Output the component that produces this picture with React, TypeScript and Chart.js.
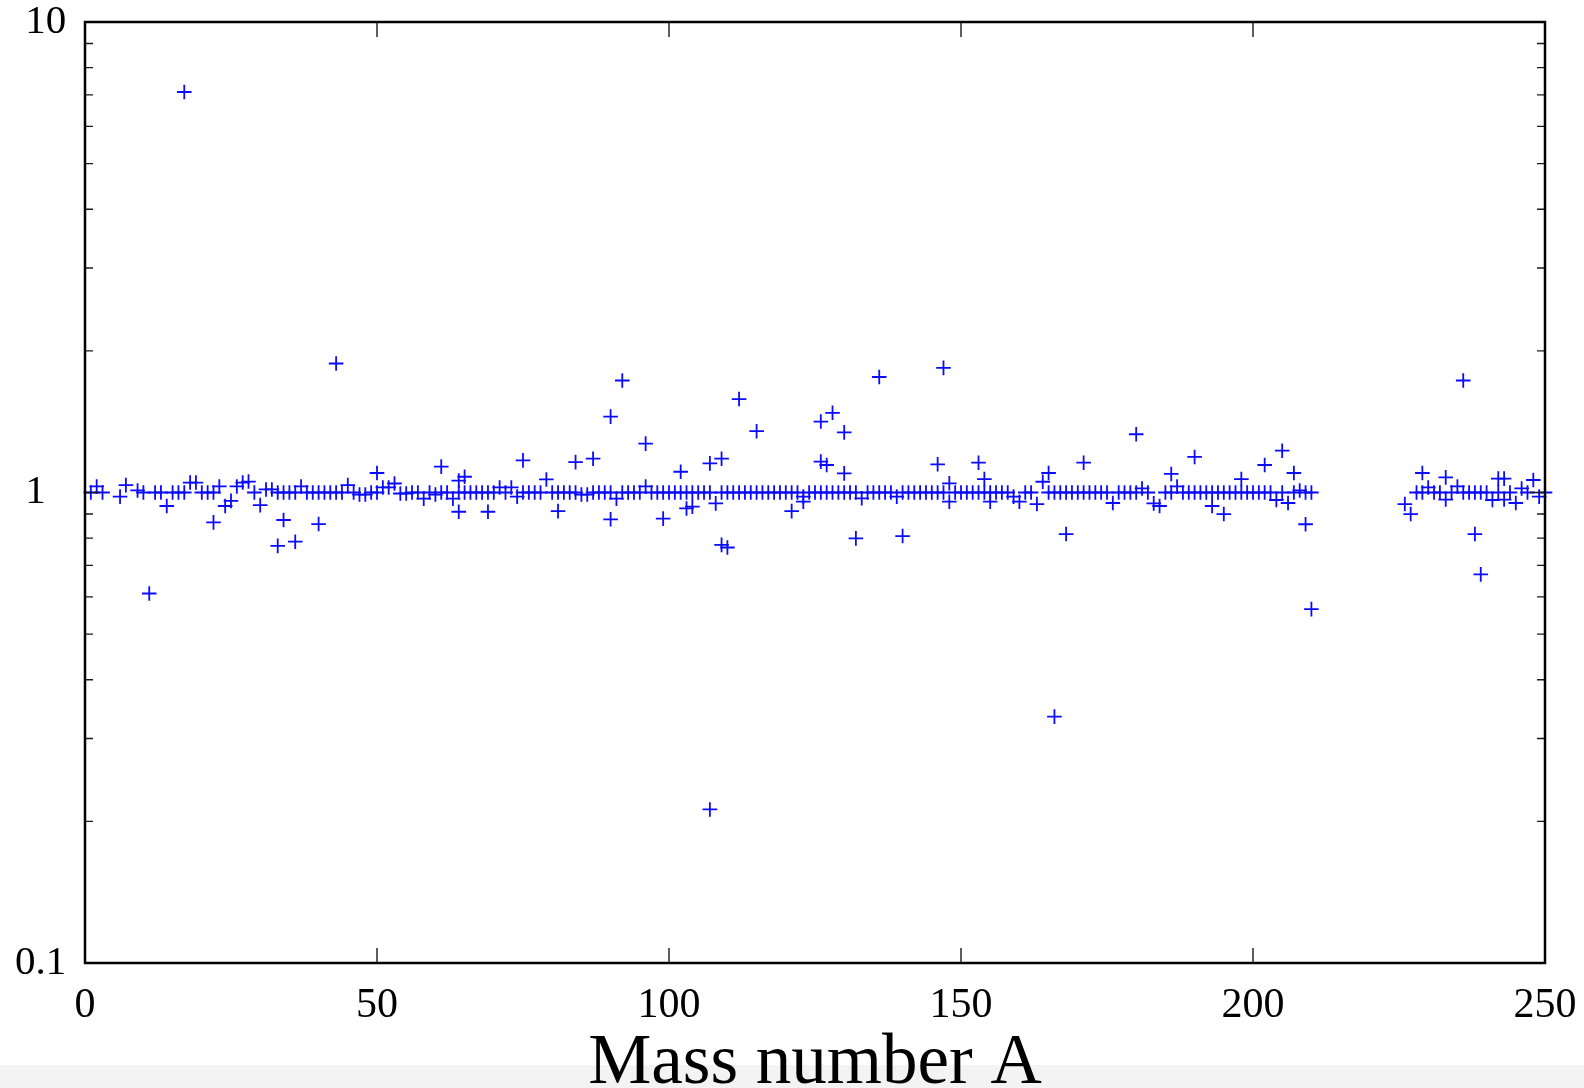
import React, { useEffect, useRef } from "react";
import { Chart, registerables } from "chart.js";

Chart.register(...registerables);

// ---- axis ticks ----
const xTickValues = [0, 50, 100, 150, 200, 250];
const yTickLabels = [0.1, 1, 10];
const yTickText = ["0.1", " 1", " 10"];
const yMinorTicks = [0.2, 0.3, 0.4, 0.5, 0.6, 0.7, 0.8, 0.9, 2, 3, 4, 5, 6, 7, 8, 9];
const xAxisTitle = "Mass number A";

// ---- data: near-unity points, one per mass number ----
const massA_1to50 = [1, 2, 3, 6, 7, 9, 10, 12, 13, 14, 15, 16, 17, 18, 19, 20, 21, 22, 23, 24, 25, 26, 27, 28, 29, 30, 31, 32, 33, 34, 35, 36, 37, 38, 39, 40, 41, 42, 43, 44, 45, 46, 47, 48, 49, 50];
const ratio_1to50 = [1.0, 1.03, 1.0, 0.98, 1.037, 1.01, 1.0, 1.0, 1.0, 0.936, 1.0, 1.0, 1.0, 1.05, 1.05, 1.0, 1.0, 1.0, 1.03, 0.936, 0.96, 1.03, 1.05, 1.055, 1.0, 0.94, 1.015, 1.015, 1.0, 1.0, 1.0, 1.0, 1.03, 1.0, 1.0, 1.0, 1.0, 1.0, 1.0, 1.0, 1.037, 1.0, 0.99, 0.99, 1.0, 1.0];

const massA_51to100 = [51, 52, 53, 54, 55, 56, 57, 58, 59, 60, 61, 62, 63, 64, 65, 66, 67, 68, 69, 70, 71, 72, 73, 74, 75, 76, 77, 78, 79, 80, 81, 82, 83, 84, 85, 86, 87, 88, 89, 90, 91, 92, 93, 94, 95, 96, 97, 98, 99, 100];
const ratio_51to100 = [1.025, 1.025, 1.045, 0.995, 0.995, 1.0, 1.0, 0.97, 1.0, 0.99, 1.0, 1.0, 0.97, 1.0, 1.0, 1.0, 1.0, 1.0, 1.0, 1.0, 1.025, 1.0, 1.025, 0.98, 1.0, 1.0, 1.0, 1.0, 1.066, 1.0, 1.0, 1.0, 1.0, 1.0, 0.99, 0.99, 1.0, 1.0, 1.0, 1.0, 0.97, 1.0, 1.0, 1.0, 1.0, 1.03, 1.0, 1.0, 1.0, 1.0];

const massA_101to150 = [101, 102, 103, 104, 105, 106, 107, 108, 109, 110, 111, 112, 113, 114, 115, 116, 117, 118, 119, 120, 121, 122, 123, 124, 125, 126, 127, 128, 129, 130, 131, 132, 133, 134, 135, 136, 137, 138, 139, 140, 141, 142, 143, 144, 145, 146, 147, 148, 149, 150];
const ratio_101to150 = [1.0, 1.0, 1.0, 1.0, 1.0, 1.0, 1.0, 0.948, 1.0, 1.0, 1.0, 1.0, 1.0, 1.0, 1.0, 1.0, 1.0, 1.0, 1.0, 1.0, 1.0, 1.0, 0.98, 1.0, 1.0, 1.0, 1.0, 1.0, 1.0, 1.0, 1.0, 1.0, 0.972, 1.0, 1.0, 1.0, 1.0, 1.0, 0.98, 1.0, 1.0, 1.0, 1.0, 1.0, 1.0, 1.0, 1.0, 1.046, 1.0, 1.0];

const massA_151to210 = [151, 152, 153, 154, 155, 156, 157, 158, 159, 160, 161, 162, 163, 164, 165, 166, 167, 168, 169, 170, 171, 172, 173, 174, 175, 176, 177, 178, 179, 180, 181, 182, 183, 184, 185, 186, 187, 188, 189, 190, 191, 192, 193, 194, 195, 196, 197, 198, 199, 200, 201, 202, 203, 204, 205, 206, 207, 208, 209, 210];
const ratio_151to210 = [1.0, 1.0, 1.0, 1.0, 1.0, 1.0, 1.0, 1.0, 0.98, 0.956, 1.0, 1.0, 0.945, 1.054, 1.0, 1.0, 1.0, 1.0, 1.0, 1.0, 1.0, 1.0, 1.0, 1.0, 1.0, 0.95, 1.0, 1.0, 1.0, 1.0, 1.02, 1.0, 0.948, 0.936, 1.0, 1.0, 1.03, 1.0, 1.0, 1.0, 1.0, 1.0, 1.0, 1.0, 1.0, 1.0, 1.0, 1.0, 1.0, 1.0, 1.0, 1.0, 1.0, 0.964, 1.0, 0.95, 1.0, 1.01, 1.0, 1.0];

const massA_226to250 = [226, 227, 228, 229, 230, 231, 232, 233, 234, 235, 236, 237, 238, 239, 240, 241, 242, 243, 244, 245, 246, 247, 248, 249, 250];
const ratio_226to250 = [0.945, 0.9, 1.0, 1.0, 1.025, 1.0, 1.0, 0.966, 1.0, 1.03, 1.0, 1.0, 1.0, 1.0, 1.0, 0.964, 1.0, 0.966, 1.0, 0.95, 1.02, 1.0, 1.063, 0.98, 1.0];

// ---- data: additional (deviating) points ----
const outlierMassA = [11, 17, 22, 33, 34, 36, 40, 43, 50, 61, 64, 64, 65, 69, 75, 81, 84, 87, 90, 90, 92, 96, 99, 102, 103, 104, 107, 107, 109, 109, 110, 112, 115, 121, 123, 126, 126, 127, 128, 130, 130, 132, 136, 140, 146, 147, 148, 153, 154, 155, 165, 166, 168, 171, 180, 186, 190, 193, 195, 198, 202, 205, 207, 209, 210, 229, 233, 236, 238, 239, 242, 243];
const outlierRatio = [0.61, 7.1, 0.864, 0.77, 0.874, 0.786, 0.857, 1.88, 1.1, 1.135, 0.91, 1.06, 1.08, 0.91, 1.17, 0.913, 1.16, 1.18, 1.45, 0.877, 1.73, 1.27, 0.88, 1.107, 0.925, 0.933, 0.212, 1.153, 1.18, 0.774, 0.764, 1.58, 1.35, 0.913, 0.956, 1.415, 1.163, 1.144, 1.477, 1.342, 1.098, 0.799, 1.76, 0.808, 1.148, 1.84, 0.956, 1.157, 1.068, 0.956, 1.1, 0.334, 0.816, 1.157, 1.33, 1.095, 1.19, 0.936, 0.9, 1.068, 1.144, 1.227, 1.1, 0.856, 0.565, 1.1, 1.077, 1.73, 0.816, 0.67, 1.07, 1.07];

const zip = (xs: number[], ys: number[]) => xs.map((x, i) => ({ x, y: ys[i] }));

const FONT = "'Liberation Serif', 'Times New Roman', Times, serif";

const framePlugin = {
  id: "gnuplotFrame",
  afterDatasetsDraw(chart: any) {
    const { ctx, chartArea, scales } = chart;
    const { left, right, top, bottom } = chartArea;
    const xs = scales.x;
    const ys = scales.y;
    ctx.save();
    ctx.strokeStyle = "#1a1a1a";
    ctx.lineWidth = 1.4;
    ctx.beginPath();
    for (const v of xTickValues) {
      const px = xs.getPixelForValue(v);
      ctx.moveTo(px, bottom);
      ctx.lineTo(px, bottom - 15);
      ctx.moveTo(px, top);
      ctx.lineTo(px, top + 15);
    }
    for (const v of yTickLabels) {
      const py = ys.getPixelForValue(v);
      ctx.moveTo(left, py);
      ctx.lineTo(left + 15, py);
      ctx.moveTo(right, py);
      ctx.lineTo(right - 15, py);
    }
    for (const v of yMinorTicks) {
      const py = ys.getPixelForValue(v);
      ctx.moveTo(left, py);
      ctx.lineTo(left + 8, py);
      ctx.moveTo(right, py);
      ctx.lineTo(right - 8, py);
    }
    ctx.stroke();
    ctx.strokeStyle = "#000";
    ctx.lineWidth = 2.5;
    ctx.strokeRect(left, top, right - left, bottom - top);
    ctx.restore();
  },
};

export default function App() {
  const canvasRef = useRef<HTMLCanvasElement | null>(null);

  useEffect(() => {
    if (!canvasRef.current) return;
    const points = [
      ...zip(massA_1to50, ratio_1to50),
      ...zip(massA_51to100, ratio_51to100),
      ...zip(massA_101to150, ratio_101to150),
      ...zip(massA_151to210, ratio_151to210),
      ...zip(massA_226to250, ratio_226to250),
      ...zip(outlierMassA, outlierRatio),
    ];
    const chart = new Chart(canvasRef.current, {
      type: "scatter",
      data: {
        datasets: [
          {
            data: points,
            pointStyle: "cross",
            pointRadius: 7.3,
            pointHoverRadius: 7.3,
            borderColor: "rgb(10,10,255)",
            backgroundColor: "rgb(10,10,255)",
            borderWidth: 1.8,
            showLine: false,
            clip: false as any,
          },
        ],
      },
      options: {
        animation: false,
        responsive: true,
        maintainAspectRatio: false,
        layout: { padding: { top: 22, right: 39, left: 15, bottom: 0 } },
        plugins: { legend: { display: false }, tooltip: { enabled: false }, title: { display: false } },
        scales: {
          x: {
            type: "linear",
            min: 0,
            max: 250,
            grid: { display: false },
            border: { display: false },
            afterBuildTicks: (scale: any) => {
              scale.ticks = xTickValues.map((v) => ({ value: v }));
            },
            afterFit: (scale: any) => {
              scale.height = 125;
              scale.paddingLeft = 0;
              scale.paddingRight = 0;
            },
            ticks: {
              padding: 10,
              color: "#000",
              font: { family: FONT, size: 42, lineHeight: 1.2 },
              maxRotation: 0,
              autoSkip: false,
              callback: (v: any) => String(v),
            },
            title: {
              display: true,
              text: xAxisTitle,
              color: "#000",
              font: { family: FONT, size: 71, lineHeight: 1 },
              padding: { top: 0, bottom: -12 },
            },
          },
          y: {
            type: "logarithmic",
            min: 0.1,
            max: 10,
            grid: { display: false },
            border: { display: false },
            afterBuildTicks: (scale: any) => {
              scale.ticks = yTickLabels.map((v) => ({ value: v }));
            },
            afterFit: (scale: any) => {
              scale.width = 70;
              scale.paddingTop = 0;
              scale.paddingBottom = 0;
            },
            ticks: {
              padding: 10,
              crossAlign: "far",
              color: "#000",
              font: { family: FONT, size: 41, lineHeight: 1.2 },
              autoSkip: false,
              callback: (v: any) => {
                const i = yTickLabels.indexOf(Number(v));
                return i >= 0 ? yTickText[i] : "";
              },
            },
          },
        },
      },
      plugins: [framePlugin],
    });
    return () => chart.destroy();
  }, []);

  return (
    <div style={{ position: "fixed", left: 0, top: 0, width: 1584, height: 1088, background: "#fff", overflow: "hidden" }}>
      <div style={{ position: "absolute", left: 0, top: 1065, width: 1584, height: 23, background: "#f3f3f3" }} />
      <div style={{ position: "absolute", left: 0, top: 0, width: 1584, height: 1088 }}>
        <canvas ref={canvasRef} />
      </div>
    </div>
  );
}
